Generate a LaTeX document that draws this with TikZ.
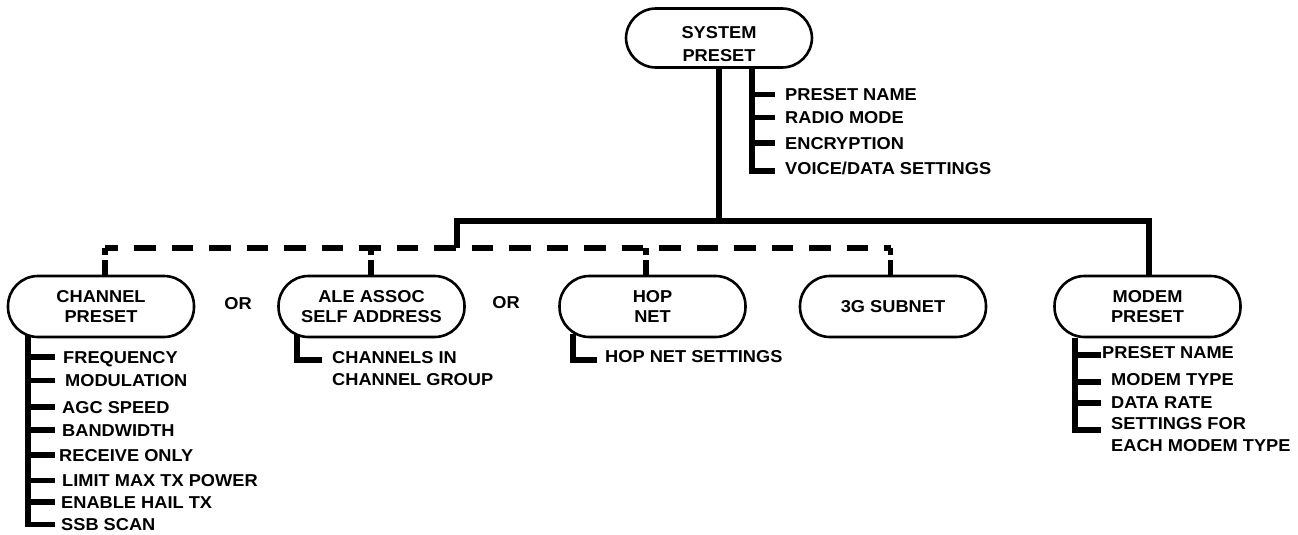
\documentclass[tikz,border=0pt]{standalone}
\usepackage{fontspec}
\setmainfont{Liberation Sans}[FakeStretch=1.06]
\usetikzlibrary{calc}
\pgfdeclarelayer{bg}
\pgfsetlayers{bg,main}
\begin{document}
\begin{tikzpicture}[x=1pt,y=-1pt,
  lbl/.style={font=\bfseries\fontsize{17.2}{20.5}\selectfont},
  box/.style={lbl, draw, line width=2.6pt, rounded corners=30pt, fill=white,
    minimum width=186pt, minimum height=61pt, align=center, inner sep=0pt},
  item/.style={lbl, anchor=west, inner sep=0pt, text height=12.4pt, text depth=0pt},
  item2/.style={font=\bfseries\fontsize{17.2}{22}\selectfont, anchor=north west, inner sep=0pt, align=left},
  conn/.style={line width=5.5pt},
  dconn/.style={line width=5.5pt, dash pattern=on 21.5pt off 16pt, dash phase=8.5pt},
  ddrop/.style={line width=5.5pt, dash pattern=on 7pt off 5pt on 40pt off 5pt}]
\useasboundingbox (0,0) rectangle (1298,535);

% boxes
\node[box, minimum height=59pt] (sys) at (719,38) {};
\node[lbl, align=center, inner sep=0pt, font=\bfseries\fontsize{17.2}{23}\selectfont] (systxt) at ([yshift=-6pt]sys.center) {SYSTEM\\PRESET};
\node[box] (ch)  at (101,306.5)  {CHANNEL\\PRESET};
\node[box] (ale) at (371.5,306.5) {ALE ASSOC\\SELF ADDRESS};
\node[box] (hop) at (652.5,306.5) {HOP\\NET};
\node[box] (g3)  at (893,306.5)  {3G SUBNET};
\node[box] (mod) at (1147.5,306.5) {MODEM\\PRESET};

\node[lbl, inner sep=0pt] (or1) at (238,304) {OR};
\node[lbl, inner sep=0pt] (or2) at (506,303) {OR};

% system items
\node[item] (s1) at (785,94.5) {PRESET NAME};
\node[item] (s2) at (785,117.5) {RADIO MODE};
\node[item] (s3) at (785,143) {ENCRYPTION};
\node[item] (s4) at (785,168.5) {VOICE/DATA SETTINGS};

% channel items
\node[item] (c1) at (63,357) {FREQUENCY};
\node[item] (c2) at (65,380.5) {MODULATION};
\node[item] (c3) at (62,407) {AGC SPEED};
\node[item] (c4) at (62,430) {BANDWIDTH};
\node[item] (c5) at (59,455) {RECEIVE ONLY};
\node[item] (c6) at (62,480.5) {LIMIT MAX TX POWER};
\node[item] (c7) at (61,502) {ENABLE HAIL TX};
\node[item] (c8) at (61,524.5) {SSB SCAN};

% ale item
\node[item2] (a1) at (332,351.5) {CHANNELS IN\\CHANNEL GROUP};
% hop item
\node[item] (h1) at (605,356) {HOP NET SETTINGS};

% modem items
\node[item] (m1) at (1102,352) {PRESET NAME};
\node[item] (m2) at (1111,379) {MODEM TYPE};
\node[item] (m3) at (1111,402) {DATA RATE};
\node[item2] (m4) at (1111,416.8) {SETTINGS FOR\\EACH MODEM TYPE};

% helper coordinates
\coordinate (busL) at (457,221);
\coordinate (dashY) at (0,248);
\coordinate (sv) at (752,0);  \coordinate (st) at (775,0);
\coordinate (cv) at (28,0);   \coordinate (ct) at (55,0);
\coordinate (av) at (297,0);  \coordinate (at) at (322,0);
\coordinate (hv) at (573,0);  \coordinate (ht) at (597,0);
\coordinate (mv) at (1075,0); \coordinate (mt) at (1101,0);

\begin{pgfonlayer}{bg}
  % main tree
  \draw[conn] (sys.south) -- (sys.south |- busL);
  \draw[conn] (busL |- dashY) -- (busL) -- ([xshift=1.5pt]mod.north |- busL) -- ([xshift=1.5pt]mod.north);
  \draw[dconn] ([xshift=4pt]ch.north |- dashY) -- ([xshift=-2.5pt]g3.north |- dashY);
  \draw[ddrop] ([xshift=4pt]ch.north |- dashY) -- ([xshift=4pt]ch.north);
  \draw[ddrop] ([xshift=-0.5pt]ale.north |- dashY) -- ([xshift=-0.5pt]ale.north);
  \draw[ddrop] ([xshift=-6.5pt]hop.north |- dashY) -- ([xshift=-6.5pt]hop.north);
  \draw[ddrop] ([xshift=-2.5pt]g3.north |- dashY) -- ([xshift=-2.5pt]g3.north);

  % system list
  \draw[conn] (sv |- sys.south) -- ($(sv |- s4.west)+(0,2.5)$) -- ($(st |- s4.west)+(0,2.5)$);
  \foreach \n in {s1,s2,s3} \draw[conn] (sv |- \n.west) -- (st |- \n.west);

  % channel list
  \draw[conn] ($(cv |- ch.south)+(0,-4)$) -- (cv |- c8.west) -- (ct |- c8.west);
  \foreach \n in {c1,c2,c3,c4,c5,c6,c7} \draw[conn] (cv |- \n.west) -- (ct |- \n.west);

  % ale list
  \draw[conn] ($(av |- ale.south)+(0,-4)$) -- ($(av |- a1.north west)+(0,8.5)$) -- ($(at |- a1.north west)+(0,8.5)$);
  % hop list
  \draw[conn] ($(hv |- hop.south)+(0,-4)$) -- ($(hv |- h1.west)+(0,4)$) -- ($(ht |- h1.west)+(0,4)$);

  % modem list
  \draw[conn] (mv |- mod.south) -- ($(mv |- m4.north west)+(0,13)$) -- ($(mt |- m4.north west)+(0,13)$);
  \draw[conn] ($(mv |- m1.west)+(0,3)$) -- ($(mt |- m1.west)+(0,3)$);
  \draw[conn] ($(mv |- m2.west)+(0,3)$) -- ($(mt |- m2.west)+(0,3)$);
  \draw[conn] ($(mv |- m3.west)+(0,1)$) -- ($(mt |- m3.west)+(0,1)$);
\end{pgfonlayer}
\end{tikzpicture}
\end{document}
